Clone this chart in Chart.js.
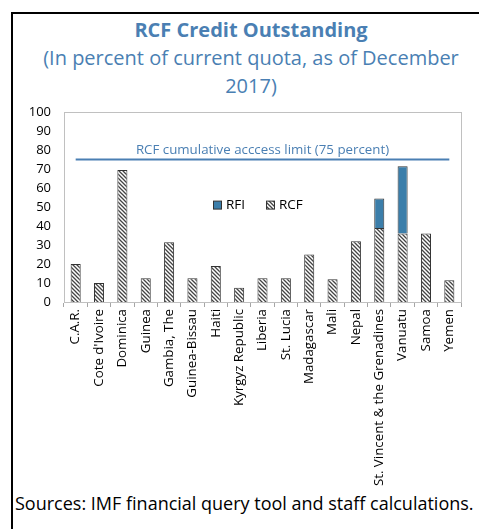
<!DOCTYPE html>
<html>
<head>
<meta charset="utf-8">
<script src="https://cdn.jsdelivr.net/npm/chart.js@4"></script>
<style>
  body { margin: 0; background: #fff; width: 479px; height: 529px; overflow: hidden; position: relative; font-family: "Open Sans", sans-serif; }
  #frame { position: absolute; left: 11px; top: 12px; width: 600px; height: 600px; border: 2px solid #000; }
  .hd { position: absolute; left: 11px; width: 480px; text-align: center; color: #4a7fb3; white-space: nowrap; }
  #title { top: 16px; font-size: 20px; font-weight: bold; }
  #sub1 { top: 44px; font-size: 20px; }
  #sub2 { top: 72px; font-size: 20px; }
  #foot { position: absolute; left: 15px; top: 491px; font-size: 18px; color: #000; white-space: nowrap; }
  #wrap { position: absolute; left: 0; top: 0; width: 479px; height: 529px; }
</style>
</head>
<body>
<div id="frame"></div>
<div class="hd" id="title">RCF Credit Outstanding</div>
<div class="hd" id="sub1">(In percent of current quota, as of December</div>
<div class="hd" id="sub2">2017)</div>
<div id="foot">Sources: IMF financial query tool and staff calculations.</div>
<div id="wrap"><canvas id="chart"></canvas></div>
<script>
const countries = ["C.A.R.", "Cote d'Ivoire", "Dominica", "Guinea", "Gambia, The", "Guinea-Bissau",
  "Haiti", "Kyrgyz Republic", "Liberia", "St. Lucia", "Madagascar", "Mali", "Nepal",
  "St. Vincent & the Grenadines", "Vanuatu", "Samoa", "Yemen"];
const rcf = [20, 10, 69.5, 12.5, 31.5, 12.5, 19, 7.5, 12.5, 12.5, 25, 12, 32, 39, 36, 36, 11.5];
const rfi = [0, 0, 0, 0, 0, 0, 0, 0, 0, 0, 0, 0, 0, 15.5, 35.5, 0, 0];
const limitValue = 75;
const limitLabel = "RCF cumulative acccess limit (75 percent)";

function hatch() {
  const c = document.createElement('canvas');
  c.width = 4; c.height = 4;
  const g = c.getContext('2d');
  g.fillStyle = '#fff';
  g.fillRect(0, 0, 4, 4);
  g.strokeStyle = '#444';
  g.lineWidth = 1.3;
  g.beginPath();
  g.moveTo(-1, -1); g.lineTo(5, 5);
  g.moveTo(-1, 3); g.lineTo(1, 5);
  g.moveTo(3, -1); g.lineTo(5, 1);
  g.stroke();
  return g.createPattern(c, 'repeat');
}
const hatchFill = hatch();
const RFI_COLOR = '#3b7eaa';
const BLUE = '#4a7fb3';

const extras = {
  id: 'extras',
  beforeDatasetsDraw(chart) {
    const { ctx, chartArea: a } = chart;
    ctx.save();
    ctx.strokeStyle = '#c0c0c0';
    ctx.lineWidth = 1;
    ctx.strokeRect(a.left + 0.5, a.top + 0.5, a.right - a.left, a.bottom - a.top);
    ctx.restore();
  },
  afterDatasetsDraw(chart) {
    const { ctx, chartArea: a, scales } = chart;
    const y = scales.y;
    ctx.save();
    ctx.font = '13.3px "Open Sans"';
    ctx.fillStyle = BLUE;
    ctx.textAlign = 'center';
    ctx.textBaseline = 'middle';
    ctx.fillText(limitLabel, (a.left + a.right) / 2, y.getPixelForValue(limitValue) - 9);

    // legend
    const ly = y.getPixelForValue(51);
    ctx.font = '13.5px "Open Sans"';
    ctx.textAlign = 'left';
    ctx.fillStyle = RFI_COLOR;
    ctx.fillRect(213.5, ly - 4, 8, 8);
    ctx.strokeStyle = '#333';
    ctx.strokeRect(213.5, ly - 4, 8, 8);
    ctx.fillStyle = '#000';
    ctx.fillText('RFI', 226, ly);
    ctx.fillStyle = hatchFill;
    ctx.fillRect(266.5, ly - 4, 8, 8);
    ctx.strokeRect(266.5, ly - 4, 8, 8);
    ctx.fillStyle = '#000';
    ctx.fillText('RCF', 279, ly);
    ctx.restore();
  }
};

new Chart(document.getElementById('chart'), {
  type: 'bar',
  data: {
    labels: countries,
    datasets: [
      { label: 'RCF', data: rcf, backgroundColor: hatchFill, borderColor: '#333', borderWidth: 1,
        barPercentage: 0.43, categoryPercentage: 1, order: 2 },
      { label: 'RFI', data: rfi, backgroundColor: RFI_COLOR, borderColor: '#333', borderWidth: 1,
        barPercentage: 0.43, categoryPercentage: 1, order: 2 },
      { type: 'line', label: 'limit', data: countries.map(() => limitValue), borderColor: BLUE,
        borderWidth: 2, pointRadius: 0, stack: 'limit', order: 1 }
    ]
  },
  options: {
    responsive: true,
    maintainAspectRatio: false,
    animation: false,
    layout: { padding: { left: 24, right: 18, top: 112, bottom: 27 } },
    plugins: { legend: { display: false }, tooltip: { enabled: false } },
    scales: {
      x: {
        stacked: true,
        afterFit(s) { s.height = 200; },
        grid: { offset: true, drawOnChartArea: false, tickLength: 5, color: '#a6a6a6' },
        border: { color: '#a6a6a6' },
        ticks: { color: '#000', font: { family: 'Open Sans', size: 13.3 }, maxRotation: 90, minRotation: 90, autoSkip: false, padding: 2 }
      },
      y: {
        stacked: true,
        min: 0, max: 100,
        afterFit(s) { s.width = 40; },
        grid: { display: false, drawTicks: false },
        border: { display: true, color: '#a6a6a6' },
        ticks: { stepSize: 10, color: '#000', font: { family: 'Open Sans', size: 13 }, padding: 13 }
      }
    }
  },
  plugins: [extras]
});
</script>
</body>
</html>
